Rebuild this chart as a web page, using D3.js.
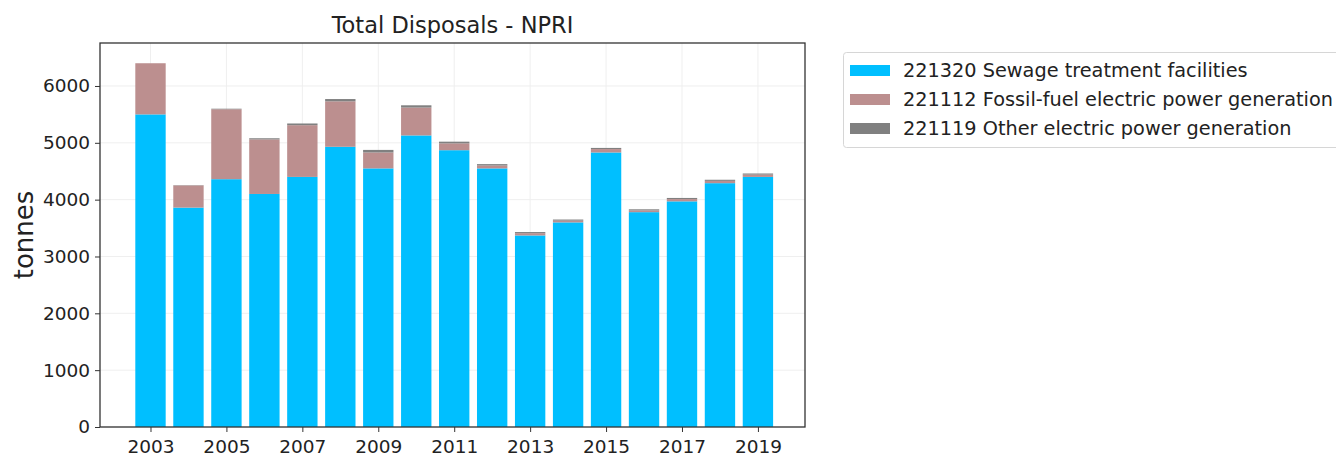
<!DOCTYPE html>
<html><head><meta charset="utf-8">
<script src="https://cdn.jsdelivr.net/npm/d3@7"></script>
<style>
body{margin:0;background:#fff;}
svg text{font-family:"DejaVu Sans",sans-serif;}
</style></head>
<body><svg id="c" width="1336" height="457"></svg>
<script>
const years = [2003,2004,2005,2006,2007,2008,2009,2010,2011,2012,2013,2014,2015,2016,2017,2018,2019];
const sewage = [5500,3860,4360,4100,4400,4930,4550,5130,4870,4550,3370,3600,4830,3780,3970,4290,4400];
const fossil = [900,390,1230,960,910,800,280,490,120,50,40,30,60,30,40,40,40];
const other  = [0,5,10,20,30,40,45,40,30,25,20,20,20,20,20,20,20];
const seriesNames = ["221320 Sewage treatment facilities","221112 Fossil-fuel electric power generation","221119 Other electric power generation"];
const colors = ["#00BFFF","#BC8F8F","#808080"];
const yTicks = [0,1000,2000,3000,4000,5000,6000];
const xTicks = [2003,2005,2007,2009,2011,2013,2015,2017,2019];

const svg = d3.select("#c");
const L=100,R=805,T=43,B=427;
const x = d3.scaleLinear().domain([2001.67,2020.24]).range([L,R]);
const y = d3.scaleLinear().domain([0,6756]).range([B,T]);

// grid
const g = svg.append("g");
g.selectAll(".gx").data(xTicks).enter().append("line")
 .attr("x1",d=>x(d)).attr("x2",d=>x(d)).attr("y1",T).attr("y2",B)
 .attr("stroke","#efefef").attr("stroke-width",1);
g.selectAll(".gy").data(yTicks).enter().append("line")
 .attr("x1",L).attr("x2",R).attr("y1",d=>y(d)).attr("y2",d=>y(d))
 .attr("stroke","#efefef").attr("stroke-width",1);

// stacked data
const rows = years.map((yr,i)=>({year:yr, s:sewage[i], f:fossil[i], o:other[i]}));
const stack = d3.stack().keys(["s","f","o"])(rows);
const bw = x(2003.4)-x(2002.6);
svg.append("g").selectAll("g").data(stack).enter().append("g")
 .attr("fill",(d,i)=>colors[i])
 .selectAll("rect").data(d=>d).enter().append("rect")
 .attr("x",d=>x(d.data.year-0.4)).attr("width",bw)
 .attr("y",d=>y(d[1])).attr("height",d=>Math.max(0,y(d[0])-y(d[1])));

// axes
const xa = svg.append("g").attr("transform",`translate(0,${B})`)
 .call(d3.axisBottom(x).tickValues(xTicks).tickFormat(d3.format("d")).tickSize(5).tickPadding(8));
const ya = svg.append("g").attr("transform",`translate(${L},0)`)
 .call(d3.axisLeft(y).tickValues(yTicks).tickFormat(d3.format("d")).tickSize(5).tickPadding(5));
[xa,ya].forEach(a=>{a.select(".domain").remove();
 a.selectAll("text").attr("font-size","18.5px").attr("fill","#222").style("font-family","DejaVu Sans");
 a.selectAll("line").attr("stroke","#333");});

// frame
svg.append("rect").attr("x",L).attr("y",T).attr("width",R-L).attr("height",B-T)
 .attr("fill","none").attr("stroke","#333").attr("stroke-width",1.3);

// title
svg.append("text").attr("x",(L+R)/2).attr("y",33).attr("text-anchor","middle")
 .attr("font-size","22.5px").attr("fill","#222").text("Total Disposals - NPRI");
// y label
svg.append("text").attr("transform",`translate(33,${(T+B)/2}) rotate(-90)`).attr("text-anchor","middle")
 .attr("font-size","26px").attr("fill","#222").text("tonnes");

// legend
const lg = svg.append("g");
lg.append("rect").attr("x",843.5).attr("y",52.5).attr("width",520).attr("height",95).attr("rx",3)
 .attr("fill","#fff").attr("stroke","#d6d6d6");
seriesNames.forEach((n,i)=>{
 const yy = 70 + i*29;
 lg.append("rect").attr("x",850).attr("y",yy-5).attr("width",40).attr("height",11).attr("fill",colors[i]);
 lg.append("text").attr("x",903).attr("y",yy+7).attr("font-size","19.3px").attr("fill","#222").text(n);
});
</script></body></html>
